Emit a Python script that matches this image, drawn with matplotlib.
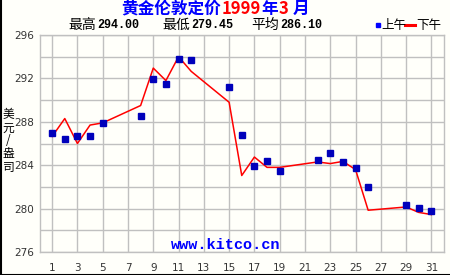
import matplotlib
matplotlib.use("Agg")
import matplotlib.pyplot as plt
from matplotlib.lines import Line2D

# ----------------------------------------------------------------------------
# Data: London gold fix, March 1999 (USD / oz)
# ----------------------------------------------------------------------------
am_days = [1, 2, 3, 4, 5, 8, 9, 10, 11, 12, 15, 16, 17, 18, 19,
           22, 23, 24, 25, 26, 29, 30, 31]
am_price = [287.00, 286.40, 286.65, 286.65, 287.85, 288.50, 291.90, 291.45,
            293.75, 293.65, 291.20, 286.75, 283.90, 284.35, 283.45,
            284.45, 285.10, 284.30, 283.70, 281.95, 280.30, 280.05, 279.75]

pm_days = am_days
pm_price = [286.65, 288.30, 286.00, 287.70, 287.90, 289.50, 292.95, 291.80,
            294.00, 292.65, 289.80, 283.05, 284.75, 283.80, 283.80,
            284.30, 284.15, 284.35, 283.60, 279.85, 280.15, 279.65, 279.45]

x_ticks = list(range(1, 32, 2))
y_ticks = [276, 280, 284, 288, 292, 296]
stats = [("最高", "294.00"), ("最低", "279.45"), ("平均", "286.10")]

CJK = ["Noto Sans CJK SC", "DejaVu Sans"]
MONO = ["Liberation Mono", "Noto Sans CJK SC"]
BLUE = "#0000ff"
MARK = "#0000bb"
RED = "#ff0000"
GRID = "#c0c0c0"

W, H = 450, 275


def fx(px):
    return px / W


def fy(py):
    return 1 - py / H


fig = plt.figure(figsize=(4.5, 2.75), dpi=100)
fig.patch.set_facecolor("#fffffa")

ax = fig.add_axes([fx(39.5), fy(252), fx(444) - fx(39.5), fy(35) - fy(252)])
ax.set_facecolor("#fffffa")

ax.plot(pm_days, pm_price, color=RED, lw=1.1, zorder=3)
ax.plot(am_days, am_price, ls="none", marker="s", ms=4, color=MARK,
        mec=MARK, zorder=4)

ax.set_xlim(0, 32)
ax.set_ylim(276, 296)
ax.set_xticks(x_ticks)
ax.set_yticks(y_ticks)
ax.set_yticks(range(276, 297, 2), minor=True)
ax.grid(True, which="both", color=GRID, lw=1.0, zorder=0)
ax.tick_params(which="both", length=0)
ax.tick_params(axis="x", pad=8, labelsize=7.5, labelcolor="#333333")
ax.tick_params(axis="y", pad=4, labelsize=7.5, labelcolor="#333333")
for s in ax.spines.values():
    s.set_color(GRID)
    s.set_linewidth(1.0)

# title, mixed colours
title_parts = [("黄金伦敦定价", BLUE, 121), ("1999", RED, 222),
               ("年", BLUE, 261), ("3", RED, 279), ("月", BLUE, 293)]
for txt, col, px in title_parts:
    fig.text(fx(px), fy(9), txt, color=col, fontsize=12, fontweight="bold",
             family=CJK, ha="left", va="center")

# high / low / average line
for (lab, val), px in zip(stats, [68, 162, 251]):
    fig.text(fx(px), fy(25), lab, fontsize=10, family=CJK,
             ha="left", va="center")
    fig.text(fx(px + 29), fy(25), val, fontsize=8.5, family=MONO,
             fontweight="bold", ha="left", va="center")

# legend
fig.add_artist(Line2D([fx(378)], [fy(25)], marker="s", ms=3.5, color=BLUE,
                      transform=fig.transFigure))
fig.text(fx(381), fy(25), "上午", fontsize=9, family=CJK, ha="left",
         va="center")
fig.add_artist(Line2D([fx(405), fx(415)], [fy(25), fy(25)], color=RED, lw=2.2,
                      transform=fig.transFigure))
fig.text(fx(416), fy(25), "下午", fontsize=9, family=CJK, ha="left",
         va="center")

# y label, stacked characters
fig.text(fx(8.5), fy(141), "美\n元\n/\n盎\n司", fontsize=8.5, family=CJK,
         ha="center", va="center", linespacing=1.0)

# watermark
fig.text(fx(171), fy(245), "www.kitco.cn", fontsize=11, family=MONO,
         fontweight="bold", color=BLUE, ha="left", va="center")

# outer frame (left / bottom)
fig.add_artist(Line2D([fx(0.5), fx(0.5), fx(450)], [fy(0), fy(274.5), fy(274.5)],
                      color="black", lw=1.5, transform=fig.transFigure))

fig.savefig("out.png", dpi=100, facecolor=fig.get_facecolor())
